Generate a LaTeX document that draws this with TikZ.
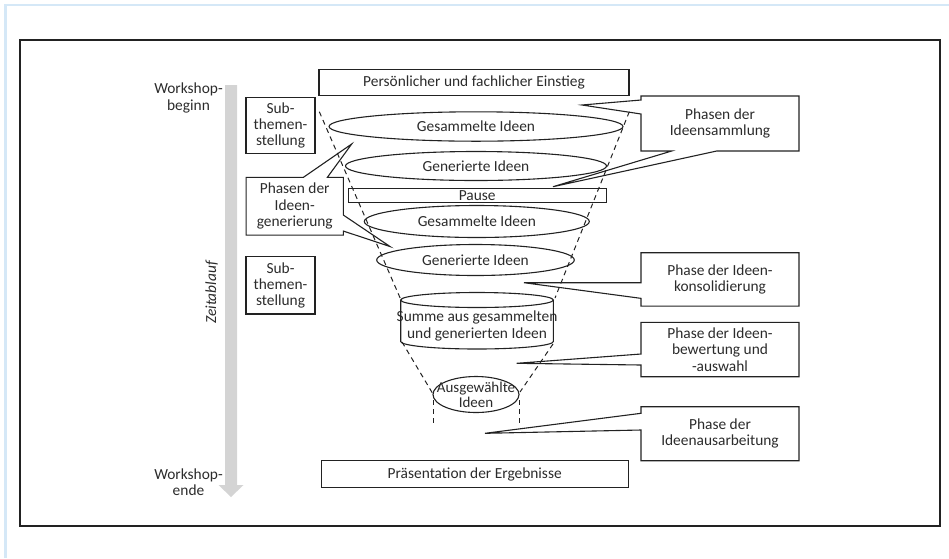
\documentclass[tikz,border=0pt]{standalone}
\usepackage{fontspec}
\setmainfont{Carlito}
\usetikzlibrary{calc, shapes.geometric}

\definecolor{linie}{HTML}{222222}
\definecolor{schrift}{HTML}{2B2B2B}
\definecolor{balken}{HTML}{D4D4D4}
\definecolor{rahmenblau}{HTML}{D5E8F7}

\begin{document}
\begin{tikzpicture}[x=1pt, y=-1pt,
    font=\fontsize{15.4}{16.3}\selectfont, text=schrift,
    kasten/.style={draw=linie, line width=1.1pt, inner sep=0pt, outer sep=0pt, align=center},
    idee/.style={draw=linie, ellipse, line width=1.1pt, inner sep=0pt, outer sep=0pt},
    blase/.style={inner sep=0pt, outer sep=0pt, align=center},
    sprechlinie/.style={draw=linie, line width=1.1pt, line join=miter},
    trichter/.style={draw=linie, line width=1pt, dash pattern=on 5pt off 4pt}]
    \useasboundingbox (0,0) rectangle (949,558);

    % frames
    \draw[rahmenblau, line width=2.5pt] (5.5,558) -- (5.5,5) -- (949,5);
    \draw[linie, line width=1.3pt] (20,40) rectangle (940,526);

    % time axis
    \fill[balken] (225,85) -- (237,85) -- (237,485) -- (243.5,485) -- (231,497) -- (218.5,485) -- (225,485) -- cycle;
    \node[align=center] (beginn) at (188.5,98) {Workshop-\\beginn};
    \node[align=center] (ende) at (188.5,482.5) {Workshop-\\ende};
    \node[rotate=90, font=\fontsize{15.4}{16.3}\selectfont\itshape] (zeit) at (211.7,292.5) {Zeitablauf};

    % funnel
    \draw[trichter] (319.3,111.7) -- (401,300);
    \draw[trichter] (402,342) -- (433,394);
    \draw[trichter] (433,400) -- (433,424);
    \draw[trichter] (629.3,111.7) -- (555,298);
    \draw[trichter] (553,344) -- (520,392);
    \draw[trichter] (519,400) -- (519,424);

    \node[kasten, minimum width=310pt, minimum height=26.4pt] (einstieg) at (474,82.5) {Persönlicher und fachlicher Einstieg};
    \node[idee, minimum width=294pt, minimum height=29.4pt, label=center:{Gesammelte Ideen}] (samm1) at (476,126.5) {};
    \node[idee, minimum width=261pt, minimum height=29pt, label=center:{Generierte Ideen}] (gen1) at (476,166) {};
    \node[kasten, minimum width=257.7pt, minimum height=14.4pt] (pause) at (477.2,195.5) {Pause};
    \node[idee, minimum width=225pt, minimum height=32pt, label=center:{Gesammelte Ideen}] (samm2) at (476.8,221.5) {};
    \node[idee, minimum width=197.6pt, minimum height=31pt, label=center:{Generierte Ideen}] (gen2) at (475.5,260) {};

    % cylinder of all ideas
    \node[blase] (summe) at (477,326) {Summe aus gesammelten\\und generierten Ideen};
    \draw[linie, line width=1.1pt] (477,300) ellipse [x radius=76.3, y radius=7.5];
    \draw[linie, line width=1.1pt] (400.7,300) -- (400.7,341.5) arc[start angle=180, end angle=0, x radius=76.3, y radius=7.5] -- (553.3,300);

    \node[idee, minimum width=86pt, minimum height=36pt, label={[align=center, font=\fontsize{15}{15}\selectfont]center:Ausgewählte\\Ideen}] (auswahl) at (476,394.5) {};
    \node[kasten, minimum width=307.3pt, minimum height=26.6pt] (praes) at (474.7,474) {Präsentation der Ergebnisse};

    % sub topics
    \node[kasten, minimum width=69pt, minimum height=56pt] (sub1) at (280.5,125.3) {Sub-\\themen-\\stellung};
    \node[kasten, minimum width=69pt, minimum height=57.3pt] (sub2) at (280.5,285.3) {Sub-\\themen-\\stellung};

    % callouts
    \coordinate (ts1) at (582,105);
    \coordinate (ts2) at (553,186.7);
    \node[blase, minimum width=158pt, minimum height=55pt] (sammlung) at (720,123.5) {Phasen der\\Ideensammlung};
    \draw[sprechlinie] (sammlung.north west) -- (sammlung.north east) -- (sammlung.south east)
        -- ($(sammlung.south west)+(75.7,0)$) -- (ts2) -- ($(sammlung.south west)+(30.7,0)$)
        -- (sammlung.south west) -- ($(sammlung.north west)+(0,18)$) -- (ts1)
        -- ($(sammlung.north west)+(0,4)$) -- cycle;

    \coordinate (tg1) at (351.7,144);
    \coordinate (tg2) at (390,246.5);
    \node[blase, minimum width=97.3pt, minimum height=57.7pt] (generierung) at (294.7,206.2) {Phasen der\\Ideen-\\generierung};
    \draw[sprechlinie] (generierung.north west) -- ($(generierung.north west)+(57.3,0)$) -- (tg1)
        -- ($(generierung.north west)+(81.3,0)$) -- (generierung.north east)
        -- ($(generierung.north east)+(0,37.7)$) -- (tg2) -- ($(generierung.north east)+(0,53.7)$)
        -- (generierung.south east) -- (generierung.south west) -- cycle;

    \coordinate (tk) at (524,282.7);
    \node[blase, minimum width=158pt, minimum height=53.3pt] (konsol) at (720,279.4) {Phase der Ideen-\\konsolidierung};
    \draw[sprechlinie] (konsol.north west) -- (konsol.north east) -- (konsol.south east) -- (konsol.south west)
        -- ($(konsol.north west)+(0,45.6)$) -- (tk) -- ($(konsol.north west)+(0,30)$) -- cycle;

    \coordinate (tb) at (516.7,363.3);
    \node[blase, minimum width=158pt, minimum height=54.4pt] (bewertung) at (720,349.5) {Phase der Ideen-\\bewertung und\\-auswahl};
    \draw[sprechlinie] (bewertung.north west) -- (bewertung.north east) -- (bewertung.south east) -- (bewertung.south west)
        -- ($(bewertung.north west)+(0,42.7)$) -- (tb) -- ($(bewertung.north west)+(0,31.7)$) -- cycle;

    \coordinate (ta) at (485,433.3);
    \node[blase, minimum width=158pt, minimum height=54pt] (ausarb) at (720,433.7) {Phase der\\Ideenausarbeitung};
    \draw[sprechlinie] (ausarb.north west) -- (ausarb.north east) -- (ausarb.south east) -- (ausarb.south west)
        -- ($(ausarb.north west)+(0,23.3)$) -- (ta) -- ($(ausarb.north west)+(0,6.6)$) -- cycle;
\end{tikzpicture}
\end{document}
